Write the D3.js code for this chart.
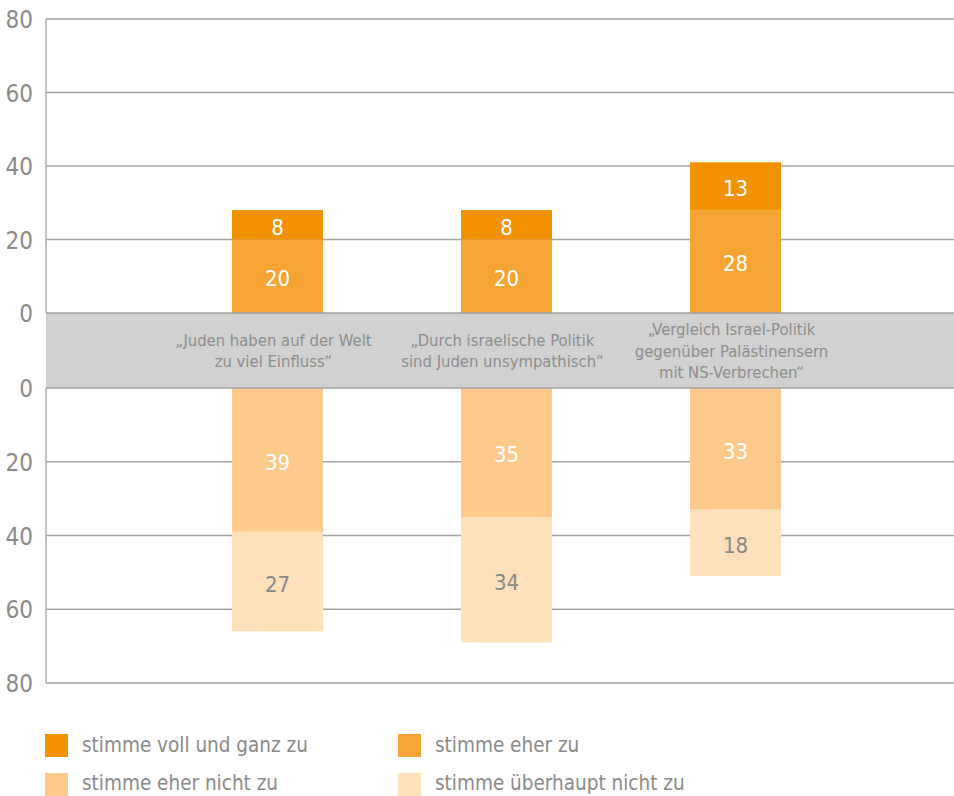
<!DOCTYPE html>
<html>
<head>
<meta charset="utf-8">
<script src="https://cdn.jsdelivr.net/npm/d3@7"></script>
<style>
  body { margin: 0; background: #fff; }
  svg text { font-family: "Liberation Sans Narrow", "DejaVu Sans Condensed", "Roboto", sans-serif; }
</style>
</head>
<body>
<div id="container"></div>
<script>
const statements = [
  ["„Juden haben auf der Welt", "zu viel Einfluss“"],
  ["„Durch israelische Politik", "sind Juden unsympathisch“"],
  ["„Vergleich Israel-Politik", "gegenüber Palästinensern", "mit NS-Verbrechen“"]
];
const categories = ["juden", "politik", "vergleich"];

// agree side (stacked upward)
const vollUndGanz = [8, 8, 13];
const eherZu = [20, 20, 28];
// disagree side (stacked downward)
const eherNicht = [39, 35, 33];
const ueberhauptNicht = [27, 34, 18];

const ticks = [0, 20, 40, 60, 80];

const legendLabels = [
  "stimme voll und ganz zu",
  "stimme eher zu",
  "stimme eher nicht zu",
  "stimme überhaupt nicht zu"
];
const colors = ["#f39200", "#f6a534", "#fdca8b", "#fee0bb"];

const width = 954, height = 796;
const left = 46;

const svg = d3.select("#container").append("svg")
  .attr("width", width).attr("height", height);

const yTop = d3.scaleLinear().domain([0, 80]).range([313, 19]);
const yBot = d3.scaleLinear().domain([0, 80]).range([388, 683]);
const x = d3.scalePoint().domain(categories).range([277.5, 735.5]);
const barW = 91;

const gridColor = "#a3a3a3";
const textGray = "#8a8a8a";

// gridlines
const grid = svg.append("g");
grid.selectAll("line.top").data(ticks.filter(d => d > 0)).enter().append("line")
  .attr("x1", left).attr("x2", width)
  .attr("y1", d => yTop(d)).attr("y2", d => yTop(d))
  .attr("stroke", gridColor).attr("stroke-width", 1.3);
grid.selectAll("line.bot").data(ticks.filter(d => d > 0)).enter().append("line")
  .attr("x1", left).attr("x2", width)
  .attr("y1", d => yBot(d)).attr("y2", d => yBot(d))
  .attr("stroke", gridColor).attr("stroke-width", 1.3);

// left axis lines
svg.append("line").attr("x1", left).attr("x2", left)
  .attr("y1", yTop(80)).attr("y2", yTop(0))
  .attr("stroke", gridColor).attr("stroke-width", 1.3);
svg.append("line").attr("x1", left).attr("x2", left)
  .attr("y1", yBot(0)).attr("y2", yBot(80))
  .attr("stroke", gridColor).attr("stroke-width", 1.3);

// tick labels
svg.selectAll("text.ttop").data(ticks).enter().append("text")
  .attr("x", 33).attr("y", d => yTop(d)).attr("dy", "0.38em")
  .attr("text-anchor", "end").attr("fill", textGray)
  .attr("font-size", 24).text(d => d);
svg.selectAll("text.tbot").data(ticks).enter().append("text")
  .attr("x", 33).attr("y", d => yBot(d)).attr("dy", "0.38em")
  .attr("text-anchor", "end").attr("fill", textGray)
  .attr("font-size", 24).text(d => d);

// bars
const bars = svg.append("g");
categories.forEach((c, i) => {
  const cx = x(c);
  const segs = [
    { y0: yTop(0), y1: yTop(eherZu[i]), v: eherZu[i], col: colors[1], tc: "#fff" },
    { y0: yTop(eherZu[i]), y1: yTop(eherZu[i] + vollUndGanz[i]), v: vollUndGanz[i], col: colors[0], tc: "#fff" },
    { y0: yBot(0), y1: yBot(eherNicht[i]), v: eherNicht[i], col: colors[2], tc: "#fff" },
    { y0: yBot(eherNicht[i]), y1: yBot(eherNicht[i] + ueberhauptNicht[i]), v: ueberhauptNicht[i], col: colors[3], tc: "#878787" }
  ];
  segs.forEach(s => {
    bars.append("rect")
      .attr("x", cx - barW / 2).attr("width", barW)
      .attr("y", Math.min(s.y0, s.y1)).attr("height", Math.abs(s.y1 - s.y0))
      .attr("fill", s.col);
    bars.append("text")
      .attr("x", cx).attr("y", (s.y0 + s.y1) / 2 + 2).attr("dy", "0.36em")
      .attr("text-anchor", "middle").attr("fill", s.tc)
      .attr("font-size", 22).text(s.v);
  });
});

// grey band with statements
svg.append("rect").attr("x", left).attr("width", width - left)
  .attr("y", yTop(0)).attr("height", yBot(0) - yTop(0))
  .attr("fill", "#d0d1d0");
[yTop(0), yBot(0)].forEach(yy => {
  svg.append("line").attr("x1", left).attr("x2", width)
    .attr("y1", yy).attr("y2", yy)
    .attr("stroke", "#a0a0a0").attr("stroke-width", 1.5);
});

const bandMid = (yTop(0) + yBot(0)) / 2;
const lineH = 21.5;
categories.forEach((c, i) => {
  const lines = statements[i];
  const t = svg.append("text")
    .attr("text-anchor", "middle").attr("fill", "#8c8c8c")
    .attr("font-size", 16.5);
  lines.forEach((l, j) => {
    t.append("tspan")
      .attr("x", x(c) - 4)
      .attr("y", bandMid + (j - (lines.length - 1) / 2) * lineH + 6)
      .text(l);
  });
});

// legend
const legend = svg.append("g");
legendLabels.forEach((l, i) => {
  const lx = i % 2 === 0 ? 45 : 398;
  const ly = i < 2 ? 734 : 773;
  legend.append("rect").attr("x", lx).attr("y", ly)
    .attr("width", 23).attr("height", 23).attr("fill", colors[i]);
  legend.append("text").attr("x", lx + 37).attr("y", i < 2 ? 752 : 790)
    .attr("fill", textGray)
    .attr("font-size", 20.5).text(l);
});
</script>
</body>
</html>
